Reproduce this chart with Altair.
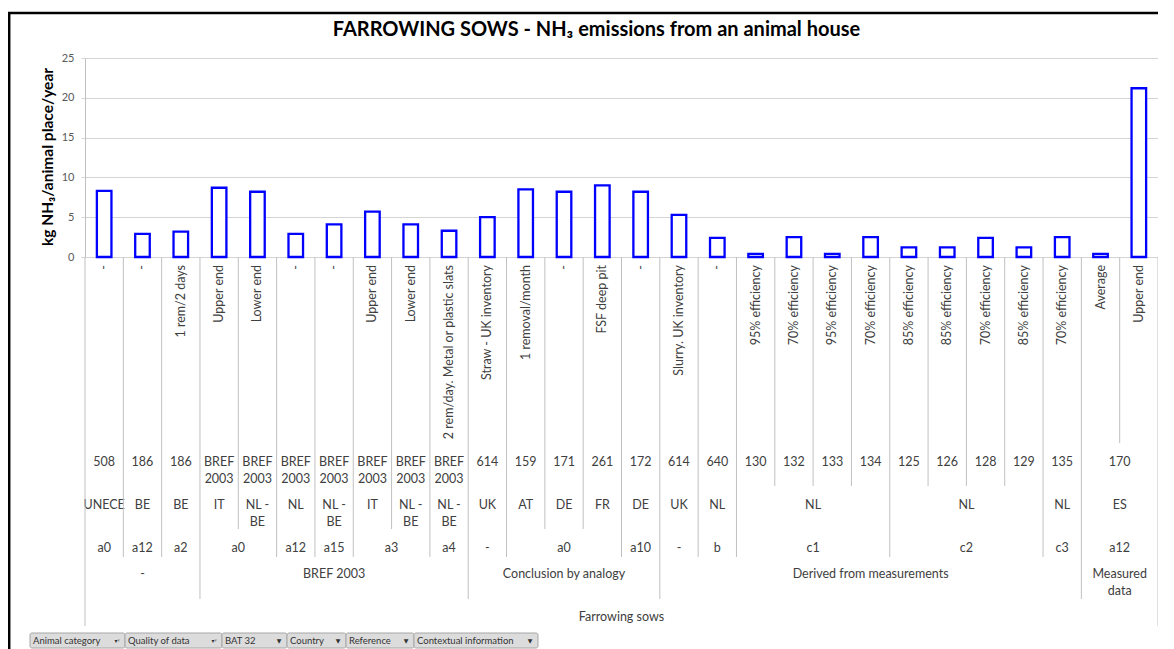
import altair as alt
import pandas as pd

# ---------------- data ----------------
TITLE = "FARROWING SOWS - NH\u2083 emissions from an animal house"
Y_TITLE = "kg NH\u2083/animal place/year"

VALUES = [8.3, 2.9, 3.2, 8.7, 8.2, 2.9, 4.1, 5.7, 4.1, 3.3, 5.0, 8.5, 8.2, 9.0,
          8.2, 5.3, 2.4, 0.4, 2.5, 0.4, 2.5, 1.2, 1.2, 2.4, 1.2, 2.5, 0.4, 21.2]

CONTEXT = ["-", "-", "1 rem/2 days", "Upper end", "Lower end", "-", "-", "Upper end",
           "Lower end", "2 rem/day. Metal or plastic slats", "Straw - UK inventory",
           "1 removal/month", "-", "FSF deep pit", "-", "Slurry. UK inventory", "-",
           "95% efficiency", "70% efficiency", "95% efficiency", "70% efficiency",
           "85% efficiency", "85% efficiency", "70% efficiency", "85% efficiency",
           "70% efficiency", "Average", "Upper end"]

REFERENCE = [("508", 1), ("186", 1), ("186", 1), ("BREF\n2003", 1), ("BREF\n2003", 1),
             ("BREF\n2003", 1), ("BREF\n2003", 1), ("BREF\n2003", 1), ("BREF\n2003", 1),
             ("BREF\n2003", 1), ("614", 1), ("159", 1), ("171", 1), ("261", 1), ("172", 1),
             ("614", 1), ("640", 1), ("130", 1), ("132", 1), ("133", 1), ("134", 1),
             ("125", 1), ("126", 1), ("128", 1), ("129", 1), ("135", 1), ("170", 2)]

COUNTRY = [("UNECE", 1), ("BE", 1), ("BE", 1), ("IT", 1), ("NL -\nBE", 1), ("NL", 1),
           ("NL -\nBE", 1), ("IT", 1), ("NL -\nBE", 1), ("NL -\nBE", 1), ("UK", 1),
           ("AT", 1), ("DE", 1), ("FR", 1), ("DE", 1), ("UK", 1), ("NL", 1), ("NL", 4),
           ("NL", 4), ("NL", 1), ("ES", 2)]

BAT32 = [("a0", 1), ("a12", 1), ("a2", 1), ("a0", 2), ("a12", 1), ("a15", 1), ("a3", 2),
         ("a4", 1), ("-", 1), ("a0", 3), ("a10", 1), ("-", 1), ("b", 1), ("c1", 4),
         ("c2", 4), ("c3", 1), ("a12", 2)]

QUALITY = [("-", 3), ("BREF 2003", 7), ("Conclusion by analogy", 5),
           ("Derived from measurements", 11), ("Measured\ndata", 2)]

ANIMAL = [("Farrowing sows", 28)]

FILTER_FIELDS = ["Animal category", "Quality of data", "BAT 32", "Country",
                 "Reference", "Contextual information"]
FILTER_ICONS = ["\u25be\u1d5e", "\u25be\u1d5e", "\u25bc", "\u25bc", "\u25bc", "\u25bc"]

# ---------------- layout (pixels, relative to plot area) ----------------
W, H = 1073, 199
FONT = "Lato"
TXT = "#404040"
LINE = "#C0C0C0"
LBL_SIZE = 12.5
BAND_BOTTOM = [385, 428, 471, 499, 541, 568]   # leaf, ref, country, bat, quality, animal
ROW_Y = {1: 404, 2: 447, 3: 490, 4: 516, 5: 559}
LINE_H = 16.5
BTN_EDGES = [-55, 40, 137, 202, 261, 329, 453]
BTN_Y = (575, 590)

n = len(VALUES)
xs = alt.Scale(domain=[0, n], nice=False, zero=False)

bars = pd.DataFrame({"i": range(n), "value": VALUES, "label": CONTEXT})
bars["x0"] = bars["i"] + 0.31
bars["x1"] = bars["i"] + 0.69
bars["xc"] = bars["i"] + 0.5

levels = [REFERENCE, COUNTRY, BAT32, QUALITY, ANIMAL]

# group labels
rows = []
for lvl, groups in enumerate(levels, start=1):
    start = 0
    for lab, span in groups:
        for k, part in enumerate(lab.split("\n")):
            rows.append({"level": lvl, "xc": start + span / 2, "text": part, "line": k})
        start += span
labels = pd.DataFrame(rows)
labels["y"] = labels["level"].map(ROW_Y) + labels["line"] * LINE_H

# boundaries with their depth
depth = {k: 0 for k in range(n + 1)}
for lvl, groups in enumerate(levels, start=1):
    b = 0
    depth[0] = max(depth[0], lvl)
    for _, span in groups:
        b += span
        depth[b] = max(depth[b], lvl)
bounds = pd.DataFrame({"bx": list(depth.keys()), "depth": list(depth.values())})

btns = pd.DataFrame({"name": FILTER_FIELDS, "icon": FILTER_ICONS,
                     "bx0": BTN_EDGES[:-1], "bx1": BTN_EDGES[1:]})
btns["tx"] = btns["bx0"] + 3
btns["ix"] = btns["bx1"] - 8

layers = []

# bars with y axis / gridlines
bar_layer = alt.Chart(bars).mark_bar(
    fill="white", stroke="#0000FF", strokeWidth=2.3
).encode(
    x=alt.X("x0:Q", scale=xs, axis=None),
    x2="x1:Q",
    y=alt.Y("value:Q", scale=alt.Scale(domain=[0, 25], nice=False),
            axis=alt.Axis(values=[0, 5, 10, 15, 20, 25], title=None, grid=True,
                          gridColor="#D4D4D4", gridWidth=1, domainColor=LINE,
                          tickColor="#D4D4D4", tickSize=4, labelPadding=7,
                          labelFont=FONT, labelFontSize=11, labelColor="#595959")),
    y2=alt.datum(0),
)

# rotated leaf labels
leaf_layer = alt.Chart(bars).mark_text(
    angle=270, align="right", baseline="middle", font=FONT, fontSize=LBL_SIZE, color=TXT
).encode(x=alt.X("xc:Q", scale=xs, axis=None), y=alt.value(207), text="label:N")

# group labels
grp_layer = alt.Chart(labels).mark_text(
    align="center", baseline="middle", font=FONT, fontSize=LBL_SIZE, color=TXT
).encode(x=alt.X("xc:Q", scale=xs, axis=None),
         y=alt.Y("y:Q", scale=None), text="text:N")

layers += [bar_layer, leaf_layer, grp_layer]

# divider rules by depth
for d, bottom in enumerate(BAND_BOTTOM):
    layers.append(
        alt.Chart(bounds).transform_filter(alt.datum.depth == d).mark_rule(
            color=LINE, strokeWidth=1
        ).encode(x=alt.X("bx:Q", scale=xs, axis=None), y=alt.value(H), y2=alt.value(bottom))
    )

# title and y title
layers.append(alt.Chart(bars).mark_text(
    text=TITLE, font=FONT, fontSize=20, fontWeight="bold", color="black",
    align="center", baseline="middle"
).encode(x=alt.value(W / 2 - 25), y=alt.value(-28)).transform_filter(alt.datum.i == 0))

layers.append(alt.Chart(bars).mark_text(
    text=Y_TITLE, font=FONT, fontSize=15.5, fontWeight="bold", color="black",
    align="center", baseline="middle", angle=270
).encode(x=alt.value(-37), y=alt.value(99)).transform_filter(alt.datum.i == 0))

# outer frame (left and top edges)
layers.append(alt.Chart(bars).mark_rule(color="black", strokeWidth=2.5).encode(
    x=alt.value(-75.8), y=alt.value(-45), y2=alt.value(600)).transform_filter(alt.datum.i == 0))
layers.append(alt.Chart(bars).mark_rule(color="black", strokeWidth=2.5).encode(
    x=alt.value(-77), x2=alt.value(W + 10), y=alt.value(-45)).transform_filter(alt.datum.i == 0))

# pivot field buttons
layers.append(alt.Chart(btns).mark_rect(
    fill="#DCDCDC", stroke="#A6A6A6", strokeWidth=1, cornerRadius=2
).encode(x=alt.X("bx0:Q", scale=None), x2="bx1:Q",
         y=alt.value(BTN_Y[0]), y2=alt.value(BTN_Y[1])))
layers.append(alt.Chart(btns).mark_text(
    align="left", baseline="middle", font=FONT, fontSize=9.5, color="#333333"
).encode(x=alt.X("tx:Q", scale=None), y=alt.value((BTN_Y[0] + BTN_Y[1]) / 2),
         text="name:N"))
layers.append(alt.Chart(btns).mark_text(
    align="center", baseline="middle", font="DejaVu Sans", fontSize=6, color="#333333"
).encode(x=alt.X("ix:Q", scale=None), y=alt.value((BTN_Y[0] + BTN_Y[1]) / 2),
         text="icon:N"))

chart = alt.layer(*layers).resolve_scale(x="independent", y="independent").properties(
    width=W, height=H,
    autosize=alt.AutoSizeParams(type="none"),
    padding={"left": 77, "top": 50, "right": 0, "bottom": 392},
    background="white",
).configure_view(stroke=None)

chart.save("out.html", embed_options={"renderer": "svg", "actions": False})
